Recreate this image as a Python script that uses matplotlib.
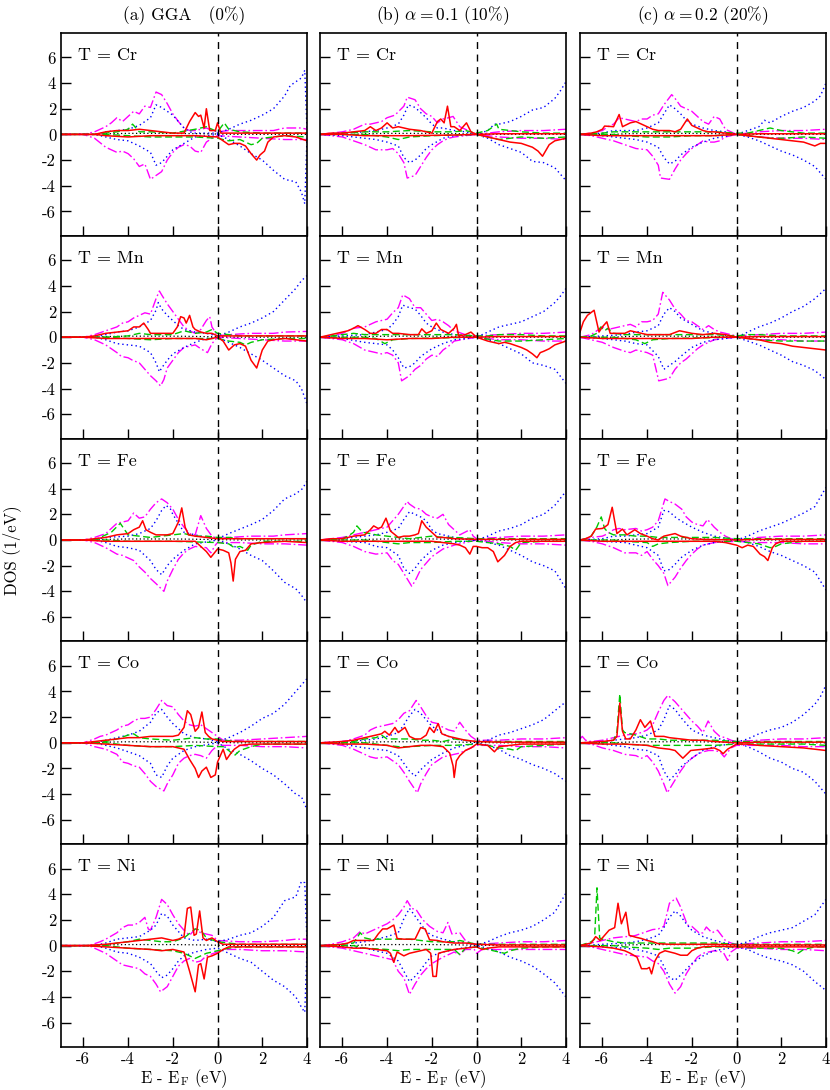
import matplotlib
matplotlib.use("Agg")
import matplotlib.pyplot as plt

plt.rcParams['font.family'] = ['cmr10', 'DejaVu Serif']
plt.rcParams['mathtext.fontset'] = 'cm'
plt.rcParams['axes.unicode_minus'] = False
plt.rcParams['axes.formatter.use_mathtext'] = False

# ---------------- data: (E - E_F [eV], DOS [1/eV]) ----------------
col_titles = ["(a) GGA   (0%)", r"(b) $\alpha = 0.1$ (10%)", r"(c) $\alpha = 0.2$ (20%)"]
elements = ["Cr", "Mn", "Fe", "Co", "Ni"]
x_ticks = [-6, -4, -2, 0, 2, 4]
y_ticks = [-6, -4, -2, 0, 2, 4, 6]

black_dos = [(-7,0),(-5.5,0),(-5,.05),(-4,.08),(-3,.08),(-2,.08),(-1,.06),(0,.03),(1,0),(4,0)]

# ---- column a (GGA) ----
a_cr_mag_up = [(-7,0),(-6,0),(-5.75,.1),(-5.5,.2),(-5.25,.4),(-5,.6),(-4.75,.9),(-4.5,1.3),(-4.25,1.0),(-4,1.4),(-3.75,1.8),(-3.5,1.6),(-3.25,2.2),(-3,2.1),(-2.75,3.3),(-2.5,3.1),(-2.25,2.4),(-2,1.6),(-1.75,1.0),(-1.5,.5),(-1.25,.3),(-1,.3),(-.75,.4),(-.5,.5),(-.25,.3),(0,.2),(.5,.3),(1.5,.3),(2.5,.3),(3,.5),(3.75,.5),(4,.4)]
a_cr_mag_dn = [(-7,0),(-6,0),(-5.5,-.3),(-5,-1.0),(-4.75,-1.2),(-4.5,-1.4),(-4.25,-1.3),(-4,-1.5),(-3.75,-1.9),(-3.5,-2.5),(-3.25,-2.3),(-3,-3.5),(-2.75,-3.2),(-2.5,-2.9),(-2.25,-2.0),(-2,-1.4),(-1.75,-1.0),(-1.5,-.8),(-1.25,-.9),(-1,-1.3),(-.75,-1.4),(-.5,-.6),(-.25,-.3),(0,-.1),(1,-.2),(2,-.3),(3,-.4),(4,-.4)]
a_cr_blue_up = [(-7,0),(-5.5,0),(-5,.2),(-4.5,.3),(-4,.4),(-3.5,.7),(-3.25,1.0),(-3,1.3),(-2.75,2.3),(-2.5,2.1),(-2.25,1.8),(-2,1.5),(-1.75,1.0),(-1.5,.5),(-1.25,.2),(-1,.1),(-.5,.1),(0,.1),(.5,.4),(1,.8),(1.5,1.1),(2,1.5),(2.5,2.0),(2.75,2.5),(3,3.0),(3.25,3.8),(3.5,4.1),(3.75,4.4),(3.9,5.0),(4,.3)]
a_cr_blue_dn = [(-7,0),(-5.5,0),(-5,-.2),(-4.5,-.4),(-4,-.5),(-3.5,-.9),(-3,-1.4),(-2.75,-2.4),(-2.5,-2.2),(-2.25,-1.7),(-2,-1.2),(-1.5,-.7),(-1,-.2),(-.5,-.1),(0,0),(.5,-.4),(1,-.9),(1.5,-1.5),(2,-2.0),(2.5,-2.8),(3,-3.5),(3.5,-3.7),(3.75,-4.5),(3.9,-5.4),(4,-.3)]
a_cr_red_up = [(-7,0),(-5.5,0),(-5,.2),(-4.5,.3),(-4,.3),(-3.5,.4),(-3,.3),(-2.5,.2),(-2,.1),(-1.5,.1),(-1.25,1.0),(-1,1.7),(-.85,1.4),(-.75,1.5),(-.6,.5),(-.5,2.0),(-.35,.3),(-.1,.3),(0,.9),(.15,.1),(1,.1),(2,.1),(3,.1),(4,.1)]
a_cr_red_dn = [(-7,0),(-5.5,0),(-5,-.1),(-4,-.2),(-3,-.1),(-2,-.1),(-1,-.1),(0,-.2),(.25,-.5),(.5,-.8),(.75,-.7),(1,-.7),(1.25,-.9),(1.5,-1.5),(1.75,-2.0),(1.9,-1.6),(2.1,-1.3),(2.25,-.6),(2.5,-.2),(3,-.1),(3.5,-.2),(4,-.5)]
a_cr_grn_up = [(-7,0),(-5.5,0),(-5,.1),(-4.5,.2),(-4,.4),(-3.8,.8),(-3.5,.2),(-3,.2),(-2,.1),(-1,.4),(-.5,.6),(0,.2),(.3,.9),(.5,.4),(1,.2),(2,.1),(3,.1),(4,.1)]
a_cr_grn_dn = [(-7,0),(-5,0),(-4,-.1),(-3,-.2),(-2,-.2),(-1,-.2),(0,-.3),(.5,-.5),(1,-.4),(1.5,-.8),(1.75,-.7),(2,-.3),(3,-.1),(4,-.2)]

a_mn_mag_up = [(-7,0),(-6,0),(-5.5,.2),(-5,.5),(-4.5,.8),(-4.25,1.1),(-4,1.2),(-3.75,1.5),(-3.5,1.7),(-3.25,1.9),(-3,1.8),(-2.75,3.0),(-2.6,3.6),(-2.5,3.3),(-2.25,2.6),(-2,2.0),(-1.75,1.4),(-1.5,.8),(-1.25,.5),(-1,.3),(-.75,.6),(-.5,1.3),(-.35,1.6),(-.25,.8),(0,.1),(.5,.2),(1.5,.3),(2.5,.3),(3,.4),(4,.45)]
a_mn_mag_dn = [(-7,0),(-6,0),(-5.5,-.2),(-5,-.6),(-4.5,-1.2),(-4.3,-1.5),(-4,-1.6),(-3.8,-1.8),(-3.5,-2.0),(-3.25,-2.5),(-3,-3.0),(-2.75,-3.4),(-2.55,-3.8),(-2.4,-3.3),(-2.25,-2.4),(-2,-1.8),(-1.75,-1.2),(-1.5,-.8),(-1,-.6),(-.75,-.9),(-.45,-1.2),(-.25,-.5),(0,0),(1,-.1),(2,-.2),(3,-.3),(4,-.3)]
a_mn_blue_up = [(-7,0),(-5.5,0),(-5,.2),(-4.5,.4),(-4,.5),(-3.5,.8),(-3,1.3),(-2.75,2.1),(-2.65,2.7),(-2.5,2.2),(-2.25,1.7),(-2,1.3),(-1.75,.9),(-1.5,.6),(-1,.4),(-.5,.3),(0,.1),(.5,.4),(1,.8),(1.5,1.1),(2,1.5),(2.5,2.0),(3,2.9),(3.5,3.8),(3.75,4.4),(4,4.8)]
a_mn_blue_dn = [(-7,0),(-5.5,0),(-5,-.2),(-4.5,-.5),(-4,-.6),(-3.5,-.7),(-3,-1.2),(-2.75,-2.0),(-2.6,-2.7),(-2.5,-2.4),(-2.25,-1.8),(-2,-1.3),(-1.5,-.8),(-1,-.4),(-.5,-.1),(0,0),(.5,-.4),(1,-.8),(1.5,-1.3),(2,-1.8),(2.5,-2.4),(3,-3.0),(3.5,-3.4),(3.75,-4.0),(4,-5.2)]
a_mn_red_up = [(-7,0),(-6,0),(-5.5,.1),(-5,.3),(-4.5,.4),(-4,.5),(-3.75,.8),(-3.5,.8),(-3.3,1.1),(-3.1,.6),(-3,.3),(-2.5,.3),(-2,.3),(-1.8,.8),(-1.65,1.6),(-1.5,1.5),(-1.4,1.1),(-1.25,1.7),(-1.1,.8),(-1,.6),(-.75,.4),(-.5,.3),(-.25,.3),(0,.1),(1,.1),(2,.1),(3,.1),(4,.1)]
a_mn_red_dn = [(-7,0),(-6,0),(-5,-.1),(-3,-.1),(-1,-.1),(-.5,-.2),(-.25,-.1),(0,0),(.25,-.3),(.5,-1.0),(.75,-.6),(1,-.5),(1.25,-.7),(1.5,-1.8),(1.75,-2.4),(2,-1.0),(2.25,-.3),(2.5,-.2),(3,-.1),(3.5,-.2),(4,-.3)]
a_mn_grn_up = [(-7,0),(-5,0),(-4,.1),(-3.5,.3),(-3,.2),(-2,.2),(-1.5,.5),(-1,.3),(-.5,.4),(-.25,.6),(0,.3),(.5,.2),(1,.1),(2,.1),(3,.1),(4,.1)]
a_mn_grn_dn = [(-7,0),(-5,0),(-4,-.1),(-3,-.2),(-2,-.1),(0,-.1),(.5,-.3),(1,-.4),(1.25,-.6),(1.5,-.4),(2,-.2),(3,-.1),(4,-.1)]

a_fe_mag_up = [(-7,0),(-6,0),(-5.5,.2),(-5,.5),(-4.75,.9),(-4.5,1.3),(-4.25,1.4),(-4,1.5),(-3.75,2.1),(-3.5,1.7),(-3.25,1.8),(-3,2.4),(-2.75,2.9),(-2.5,3.2),(-2.25,2.9),(-2,2.4),(-1.75,1.6),(-1.5,1.0),(-1.25,.5),(-1,.4),(-.75,1.9),(-.5,.9),(-.25,.3),(0,.1),(.5,.2),(1.5,.3),(2.5,.3),(3,.4),(4,.5)]
a_fe_mag_dn = [(-7,0),(-6,0),(-5.5,-.2),(-5,-.6),(-4.5,-1.1),(-4.25,-1.2),(-4,-1.4),(-3.75,-1.6),(-3.5,-2.1),(-3.25,-2.5),(-3,-3.0),(-2.75,-3.4),(-2.4,-4.0),(-2.25,-3.2),(-2,-2.3),(-1.75,-1.5),(-1.5,-1.0),(-1.25,-.7),(-1,-.5),(-.5,-.6),(-.3,-1.0),(-.1,-.4),(0,-.2),(1,-.2),(2,-.3),(3,-.3),(4,-.4)]
a_fe_blue_up = [(-7,0),(-5.5,0),(-5,.2),(-4,.3),(-3.5,.5),(-3,.9),(-2.75,1.5),(-2.5,2.3),(-2.3,2.7),(-2.1,2.4),(-2,2.0),(-1.75,1.3),(-1.5,.6),(-1,.4),(-.5,.2),(0,.1),(.5,.5),(1,.85),(1.5,1.2),(2,1.6),(2.5,2.3),(3,3.2),(3.5,3.6),(3.8,4.0),(4,4.6)]
a_fe_blue_dn = [(-7,0),(-5.5,0),(-5,-.2),(-4.5,-.5),(-4,-.6),(-3.5,-.8),(-3,-1.6),(-2.75,-2.3),(-2.5,-2.7),(-2.25,-2.0),(-2,-1.5),(-1.5,-.8),(-1,-.3),(0,0),(.5,-.3),(1,-.7),(1.5,-1.2),(2,-1.6),(2.5,-2.4),(3,-3.3),(3.5,-3.8),(3.75,-4.3),(4,-4.9)]
a_fe_red_up = [(-7,0),(-6,0),(-5.5,.1),(-5,.2),(-4.5,.4),(-4,.5),(-3.75,.8),(-3.5,1.0),(-3.35,1.5),(-3.2,.8),(-3,.6),(-2.75,.4),(-2.5,.4),(-2.25,.4),(-2,.5),(-1.75,1.4),(-1.6,2.5),(-1.45,1.0),(-1.3,.4),(-1,.3),(-.5,.2),(0,.1),(1,.1),(2,.1),(3,.1),(4,.1)]
a_fe_red_dn = [(-7,0),(-6,0),(-5,-.1),(-3,-.1),(-2,-.1),(-1,-.1),(-.75,-.5),(-.5,-.9),(-.3,-1.35),(0,-.7),(.25,-.8),(.5,-1.0),(.6,-1.8),(.7,-3.2),(.8,-1.5),(1,-.9),(1.25,-.8),(1.5,-.3),(2,-.2),(3,-.1),(4,-.2)]
a_fe_grn_up = [(-7,0),(-5.5,0),(-5.25,.2),(-4.75,.6),(-4.35,1.3),(-4,.4),(-3.5,.3),(-3,.2),(-2.5,.3),(-2,.4),(-1.5,.5),(-1,.3),(-.5,.3),(0,.2),(.5,.2),(1,.1),(2,.1),(3,.1),(4,.1)]
a_fe_grn_dn = [(-7,0),(-5,0),(-4,-.1),(-2,-.1),(0,-.2),(.5,-.3),(.75,-.6),(1,-.5),(1.35,-.8),(1.5,-.4),(2,-.1),(3,-.1),(4,-.1)]

a_co_mag_up = [(-7,0),(-6,0),(-5.5,.3),(-5.25,.5),(-5,.6),(-4.75,.8),(-4.5,1.0),(-4.25,1.3),(-4,1.4),(-3.75,1.7),(-3.5,1.9),(-3.25,1.9),(-3,2.0),(-2.75,2.6),(-2.5,3.3),(-2.25,2.9),(-2,2.8),(-1.75,2.2),(-1.5,1.7),(-1.25,1.4),(-1,1.3),(-.75,1.4),(-.5,1.1),(-.25,.8),(0,.5),(.25,.2),(1,.2),(2,.3),(3,.4),(4,.5)]
a_co_mag_dn = [(-7,0),(-6,0),(-5.5,-.3),(-5,-.5),(-4.5,-.9),(-4.25,-1.5),(-4,-1.6),(-3.75,-1.8),(-3.5,-1.9),(-3.25,-2.4),(-3,-3.0),(-2.75,-3.4),(-2.4,-3.75),(-2.25,-3.2),(-2,-2.5),(-1.75,-1.6),(-1.5,-1.2),(-1.25,-1.0),(-1,-.9),(-.75,-1.0),(-.5,-1.2),(-.25,-.6),(0,-.2),(1,-.2),(2,-.3),(3,-.3),(4,-.4)]
a_co_blue_up = [(-7,0),(-5.5,0),(-5,.2),(-4.5,.4),(-4,.6),(-3.5,.9),(-3,1.6),(-2.75,2.3),(-2.5,2.6),(-2.25,2.0),(-2,1.5),(-1.75,1.1),(-1.5,.7),(-1,.4),(-.5,.3),(0,.1),(.5,.4),(1,.8),(1.5,1.3),(2,1.9),(2.5,2.3),(3,3.0),(3.5,4.0),(4,5.0)]
a_co_blue_dn = [(-7,0),(-5.5,0),(-5,-.2),(-4.5,-.4),(-4,-.7),(-3.5,-1.0),(-3,-1.6),(-2.75,-2.5),(-2.5,-2.7),(-2.25,-1.8),(-2,-1.2),(-1.5,-.6),(-1,-.3),(0,0),(.5,-.5),(1,-.9),(1.5,-1.4),(2,-2.0),(2.5,-2.5),(3,-3.2),(3.5,-4.0),(3.75,-4.2),(4,-5.2)]
a_co_red_up = [(-7,0),(-6,0),(-5.5,.1),(-5,.2),(-4.5,.3),(-4,.4),(-3.5,.4),(-3,.5),(-2.5,.5),(-2,.5),(-1.75,.6),(-1.5,1.2),(-1.35,2.5),(-1.2,2.2),(-1.0,.9),(-.85,1.2),(-.7,2.4),(-.55,.8),(-.4,.5),(-.25,.3),(0,.2),(.25,.1),(1,.1),(2,.1),(3,.1),(4,.1)]
a_co_red_dn = [(-7,0),(-6,0),(-5,-.1),(-4,-.2),(-3,-.3),(-2,-.3),(-1.5,-.5),(-1.25,-1.3),(-1,-2.0),(-.85,-2.7),(-.7,-2.2),(-.5,-1.9),(-.3,-2.7),(-.1,-2.5),(0,-1.5),(.25,-.5),(.4,-1.3),(.6,-.8),(.75,-.5),(1,-.2),(1.5,-.1),(2,-.1),(3,-.1),(4,-.1)]
a_co_grn_up = [(-7,0),(-5.5,0),(-5,.1),(-4.5,.3),(-4,.6),(-3.75,.7),(-3.5,.4),(-3,.3),(-2,.2),(-1,.4),(-.5,.3),(0,.3),(.25,.2),(1,.1),(2,.1),(3,.1),(4,.1)]
a_co_grn_dn = [(-7,0),(-5,0),(-4,-.2),(-3,-.3),(-2,-.3),(-1,-.2),(0,-.3),(.25,-.3),(.5,-.6),(.75,-1.0),(1,-.6),(1.5,-.3),(2,-.1),(3,-.1),(4,-.1)]

a_ni_mag_up = [(-7,0),(-5.75,0),(-5.25,.3),(-5,.5),(-4.5,1.0),(-4.25,1.4),(-4,1.6),(-3.75,1.6),(-3.5,1.8),(-3.25,2.2),(-3.1,1.3),(-3,1.2),(-2.75,2.2),(-2.5,3.6),(-2.25,3.2),(-2,2.4),(-1.75,1.7),(-1.5,1.2),(-1.25,.8),(-1,1.3),(-.75,1.0),(-.5,.9),(-.25,.8),(0,.4),(1,.3),(2,.3),(3,.4),(3.5,.5),(4,.5)]
a_ni_mag_dn = [(-7,0),(-5.75,0),(-5.25,-.4),(-5,-.6),(-4.5,-1.2),(-4.25,-1.5),(-4,-1.6),(-3.75,-1.7),(-3.5,-1.8),(-3.25,-2.2),(-3,-2.4),(-2.75,-3.0),(-2.55,-3.6),(-2.25,-3.2),(-2,-2.4),(-1.75,-1.6),(-1.5,-1.2),(-1.25,-1.0),(-1,-1.3),(-.75,-1.2),(-.5,-.8),(0,-.5),(.25,-.3),(1,-.3),(2,-.4),(3,-.4),(4,-.5)]
a_ni_blue_up = [(-7,0),(-5.5,0),(-5,.2),(-4.5,.5),(-4,.6),(-3.5,.7),(-3,1.2),(-2.75,1.6),(-2.5,2.5),(-2.25,2.3),(-2,1.6),(-1.75,1.1),(-1.5,.6),(-1,.4),(-.5,.5),(0,.3),(.5,.5),(1,.8),(1.5,1.0),(2,1.5),(2.5,2.2),(3,3.5),(3.5,3.8),(3.75,5.0),(3.9,4.9),(4,.3)]
a_ni_blue_dn = [(-7,0),(-5.5,0),(-5,-.2),(-4.5,-.5),(-4,-.6),(-3.5,-.9),(-3,-1.4),(-2.75,-2.0),(-2.5,-2.5),(-2.25,-2.3),(-2,-1.8),(-1.75,-1.2),(-1.5,-.8),(-1,-.5),(-.5,-.3),(0,-.2),(.5,-.6),(1,-1.0),(1.5,-1.3),(2,-2.0),(2.5,-2.7),(3,-3.2),(3.5,-4.0),(3.75,-4.8),(3.9,-5.2),(4,-.3)]
a_ni_red_up = [(-7,0),(-6,0),(-5,.1),(-4.5,.2),(-4,.3),(-3.5,.4),(-3,.5),(-2.5,.6),(-2,.4),(-1.75,.5),(-1.5,.7),(-1.35,2.9),(-1.2,3.0),(-1.05,.8),(-.95,.9),(-.8,2.7),(-.65,.6),(-.5,.4),(-.25,.6),(0,.3),(.25,.1),(1,.1),(2,.1),(3,.1),(4,.1)]
a_ni_red_dn = [(-7,0),(-6,0),(-5,-.1),(-4,-.2),(-3,-.3),(-2.5,-.4),(-2,-.3),(-1.5,-.5),(-1.25,-2.0),(-1.0,-3.6),(-.85,-1.5),(-.75,-1.4),(-.6,-2.6),(-.45,-.9),(-.25,-.8),(0,-.6),(.25,-.3),(.5,-.1),(1,-.1),(2,-.1),(3,-.1),(4,-.1)]
a_ni_grn_up = [(-7,0),(-5,0),(-4.5,.2),(-4,.3),(-3.5,.5),(-3,.4),(-2.5,.3),(-2,.3),(-1.5,.6),(-1,1.3),(-.75,1.2),(-.5,.6),(0,.3),(.5,.2),(1,.1),(2,.1),(3,.1),(4,.1)]
a_ni_grn_dn = [(-7,0),(-5,0),(-4,-.2),(-3,-.3),(-2,-.4),(-1.5,-.6),(-1,-1.0),(-.75,-.8),(-.5,-.6),(0,-.4),(.5,-.2),(1,-.1),(2,-.1),(3,-.1),(4,-.1)]

# ---- column b (alpha = 0.1) ----
b_cr_mag_up = [(-7,0),(-6.5,.1),(-6,.2),(-5.5,.4),(-5,.8),(-4.75,.8),(-4.5,.9),(-4.25,1.0),(-4,1.3),(-3.65,1.5),(-3.25,2.2),(-3.1,2.9),(-2.75,2.7),(-2.5,2.0),(-2.25,1.6),(-2,1.4),(-1.75,.9),(-1.5,1.2),(-1.25,1.3),(-1.05,1.4),(-.75,.6),(-.5,.4),(-.25,.2),(0,0),(1,.2),(2,.3),(3,.3),(4,.4)]
b_cr_mag_dn = [(-7,0),(-6,-.2),(-5.5,-.5),(-5,-.8),(-4.5,-1.2),(-4,-1.2),(-3.75,-1.1),(-3.5,-1.5),(-3.25,-2.2),(-3.1,-3.4),(-2.75,-3.2),(-2.5,-2.5),(-2.25,-1.8),(-2,-1.2),(-1.75,-.8),(-1.5,-.5),(-1.25,-.3),(-1,-.2),(-.5,-.1),(0,0),(1,-.2),(2,-.3),(3,-.3),(4,-.4)]
b_cr_blue_up = [(-7,0),(-6,.1),(-5,.2),(-4.5,.3),(-4,.5),(-3.5,.8),(-3.25,1.5),(-3.05,2.3),(-2.75,2.1),(-2.5,1.7),(-2.25,1.3),(-2,.8),(-1.75,.5),(-1.5,.5),(-1.25,.4),(-1,.3),(-.5,.2),(0,0),(.5,.3),(.8,.8),(1,.8),(1.5,1.0),(2,1.4),(2.5,1.9),(3,2.1),(3.5,2.8),(3.75,3.4),(4,4.1)]
b_cr_blue_dn = [(-7,0),(-6,-.1),(-5,-.3),(-4.5,-.4),(-4,-.6),(-3.5,-.9),(-3.25,-1.8),(-3,-2.2),(-2.75,-2.0),(-2.5,-1.6),(-2.25,-1.1),(-2,-.8),(-1.5,-.3),(-1,-.1),(0,0),(.5,-.3),(1,-.8),(1.5,-1.1),(2,-1.4),(2.5,-2.1),(3,-2.2),(3.5,-2.6),(4,-3.6)]
b_cr_red_up = [(-7,0),(-6.5,.1),(-6,.1),(-5.5,.2),(-5,.3),(-4.75,.6),(-4.5,.3),(-4.25,.5),(-4,.9),(-3.75,.5),(-3.5,.6),(-3,.4),(-2.5,.3),(-2,.1),(-1.75,1.0),(-1.6,1.2),(-1.45,.9),(-1.3,2.2),(-1.15,.6),(-1,.6),(-.75,.3),(-.45,.9),(-.25,.2),(0,0),(1,.05),(2,.05),(4,.05)]
b_cr_red_dn = [(-7,0),(-6,0),(-5,-.1),(-3,-.1),(-1,-.05),(0,0),(.5,-.2),(1,-.4),(1.5,-.6),(2,-.7),(2.5,-1.0),(2.75,-1.3),(2.95,-1.7),(3.25,-.8),(3.5,-.5),(4,-.3)]
b_cr_grn_up = [(-7,0),(-6,.1),(-5,.2),(-4,.2),(-3,.3),(-2,.2),(-1,.2),(-.5,.3),(0,.1),(.5,.3),(.9,.8),(1,.4),(1.5,.3),(2,.2),(3,.1),(4,.1)]
b_cr_grn_dn = [(-7,0),(-5,0),(-4,-.2),(-3.5,-.4),(-3,-.2),(-2,-.1),(0,0),(1,-.4),(1.5,-.3),(2,-.2),(3,-.3),(4,-.2)]

b_mn_mag_up = [(-7,0),(-6.5,.1),(-6,.3),(-5.75,.5),(-5.5,.7),(-5,.8),(-4.75,1.0),(-4.5,1.2),(-4.25,1.3),(-4,1.4),(-3.75,1.9),(-3.5,2.3),(-3.3,3.3),(-3,3.0),(-2.75,2.3),(-2.5,2.3),(-2.25,1.8),(-2,1.3),(-1.75,1.4),(-1.5,1.2),(-1.25,.9),(-1,.5),(-.5,.2),(0,.1),(1,.2),(2,.3),(3,.3),(4,.4)]
b_mn_mag_dn = [(-7,0),(-6,-.2),(-5.5,-.5),(-5,-1.0),(-4.5,-1.2),(-4.25,-1.3),(-4,-1.2),(-3.75,-1.4),(-3.5,-2.0),(-3.35,-3.4),(-3,-3.0),(-2.75,-2.5),(-2.5,-2.2),(-2.25,-1.7),(-2,-1.4),(-1.75,-1.5),(-1.5,-1.0),(-1.25,-.7),(-1,-.3),(0,0),(1,-.2),(2,-.2),(3,-.3),(4,-.3)]
b_mn_blue_up = [(-7,0),(-6,.1),(-5,.2),(-4.5,.4),(-4,.6),(-3.75,1.0),(-3.5,1.6),(-3.3,2.5),(-3,2.3),(-2.75,2.2),(-2.5,1.7),(-2.25,1.1),(-2,.8),(-1.5,.4),(-1,.2),(0,0),(.5,.4),(1,.8),(1.5,1.0),(2,1.2),(2.5,1.6),(3,2.0),(3.5,2.7),(3.75,3.2),(4,3.8)]
b_mn_blue_dn = [(-7,0),(-6,-.1),(-5,-.4),(-4.5,-.5),(-4,-.6),(-3.75,-1.0),(-3.5,-1.6),(-3.25,-2.4),(-3,-2.3),(-2.75,-2.0),(-2.5,-1.5),(-2,-.9),(-1.5,-.5),(-1,-.2),(0,0),(.5,-.2),(1,-.5),(1.5,-.9),(2,-1.3),(2.5,-2.0),(3,-2.2),(3.5,-2.5),(4,-3.6)]
b_mn_red_up = [(-7,0),(-6.75,.1),(-6.5,.2),(-6,.4),(-5.75,.5),(-5.5,.7),(-5.3,.9),(-5,.6),(-4.75,.3),(-4.5,.3),(-4.25,.6),(-4,.6),(-3.75,.3),(-3.5,.3),(-3,.2),(-2.6,.2),(-2.45,.65),(-2.25,.3),(-2,.5),(-1.8,1.1),(-1.6,.6),(-1.25,.3),(-1,.7),(-.9,1.0),(-.8,.1),(-.5,.2),(-.25,.4),(0,0),(1,.05),(2,.05),(4,.05)]
b_mn_red_dn = [(-7,0),(-6,-.1),(-5,-.1),(-4,-.2),(-3,-.1),(-2,-.1),(-1,0),(0,0),(.5,-.3),(1,-.5),(1.25,-.4),(1.5,-.5),(2,-.8),(2.25,-1.0),(2.5,-1.3),(2.7,-1.6),(2.85,-1.2),(3,-1.1),(3.25,-.9),(3.5,-.6),(4,-.3)]
b_mn_grn_up = [(-7,0),(-6.5,.1),(-6,.2),(-5.5,.3),(-5,.2),(-4,.2),(-3,.2),(-2,.2),(-1,.2),(0,.1),(.5,.1),(1,.2),(2,.2),(3,.1),(4,.1)]
b_mn_grn_dn = [(-7,0),(-5,0),(-4.5,-.1),(-4.1,-.5),(-3.75,-.2),(-3,-.1),(0,0),(1,-.3),(2,-.3),(3,-.2),(4,-.1)]

b_fe_mag_up = [(-7,0),(-6.5,.1),(-6,.2),(-5.5,.4),(-5,.6),(-4.5,.8),(-4,1.0),(-3.75,1.5),(-3.5,2.0),(-3.1,3.0),(-3,2.8),(-2.75,2.5),(-2.5,2.4),(-2.25,2.0),(-2,1.8),(-1.75,1.7),(-1.5,2.0),(-1.25,1.2),(-1,.8),(-.75,.4),(-.3,.8),(-.15,.3),(0,.1),(1,.2),(2,.3),(3,.3),(4,.4)]
b_fe_mag_dn = [(-7,0),(-6.5,-.1),(-6,-.2),(-5.5,-.5),(-5,-.9),(-4.5,-1.1),(-4,-1.0),(-3.75,-1.6),(-3.5,-1.9),(-3.25,-2.6),(-2.9,-3.6),(-2.75,-3.2),(-2.5,-2.3),(-2.25,-1.8),(-2,-1.3),(-1.5,-.7),(-1,-.4),(-.5,-.2),(0,0),(1,-.2),(2,-.3),(3,-.3),(4,-.4)]
b_fe_blue_up = [(-7,0),(-6,.1),(-5,.3),(-4.5,.4),(-4,.6),(-3.5,.9),(-3.25,1.6),(-3,2.2),(-2.75,2.0),(-2.5,1.8),(-2.25,1.5),(-2,.8),(-1.75,.5),(-1.5,.4),(-1,.2),(0,0),(.5,.3),(1,.7),(1.5,.9),(2,1.2),(2.5,1.7),(3,2.0),(3.5,2.7),(4,3.8)]
b_fe_blue_dn = [(-7,0),(-6,-.1),(-5,-.2),(-4.5,-.5),(-4,-.6),(-3.5,-1.2),(-3.25,-2.2),(-3,-2.6),(-2.75,-2.2),(-2.5,-1.6),(-2,-.8),(-1.5,-.4),(-1,-.2),(0,0),(.5,-.2),(1,-.4),(1.5,-.8),(2,-1.2),(2.5,-1.7),(3,-2.0),(3.5,-2.4),(4,-3.8)]
b_fe_red_up = [(-7,0),(-6.5,.1),(-6,.1),(-5.5,.3),(-5,.4),(-4.75,.8),(-4.6,1.1),(-4.4,.9),(-4.25,1.0),(-4.05,1.7),(-3.85,.7),(-3.5,.2),(-3.25,.3),(-3,.3),(-2.75,.4),(-2.6,.5),(-2.45,1.5),(-2.25,1.0),(-2,.6),(-1.75,.2),(-1.5,.2),(-1,.1),(0,.05),(1,.05),(2,.05),(4,.05)]
b_fe_red_dn = [(-7,0),(-6,-.1),(-5,-.1),(-4,-.1),(-3,-.1),(-2,-.1),(-1.5,-.2),(-1,-.3),(-.75,-.4),(-.5,-.6),(-.3,-1.1),(-.15,-.5),(0,-.5),(.25,-.6),(.5,-.6),(.75,-.9),(.95,-1.7),(1.25,-1.2),(1.5,-.5),(1.75,-.2),(2,-.1),(4,-.1)]
b_fe_grn_up = [(-7,0),(-6,.1),(-5.75,.3),(-5.5,.6),(-5.35,1.1),(-5.1,.6),(-4.75,.5),(-4.5,.4),(-4,.3),(-3.5,.2),(-3,.1),(-2.5,.2),(-2,.3),(-1.5,.2),(-1,.2),(0,.1),(1,.1),(2,.1),(3,.1),(4,.1)]
b_fe_grn_dn = [(-7,0),(-5,0),(-4,-.2),(-3.5,-.3),(-3,-.2),(-2,-.2),(-1,-.1),(0,-.1),(.5,-.2),(1,-.3),(1.5,-.5),(1.75,-.8),(2,-.2),(3,-.1),(4,-.1)]

b_co_mag_up = [(-7,0),(-6,.1),(-5.5,.3),(-5,.6),(-4.75,1.0),(-4.5,1.2),(-4,1.4),(-3.75,1.5),(-3.5,1.8),(-3.25,2.3),(-3,2.5),(-2.7,3.3),(-2.5,2.8),(-2.25,2.1),(-2,1.6),(-1.75,1.5),(-1.5,1.2),(-1.25,1.0),(-1,.9),(-.75,1.6),(-.5,1.0),(-.25,.5),(0,.2),(1,.2),(2,.3),(3,.3),(4,.4)]
b_co_mag_dn = [(-7,0),(-6,-.2),(-5.5,-.5),(-5,-.9),(-4.75,-1.1),(-4.5,-1.2),(-4,-1.1),(-3.75,-1.4),(-3.5,-1.7),(-3.25,-2.3),(-3,-3.0),(-2.65,-3.9),(-2.5,-3.2),(-2.25,-2.4),(-2,-1.7),(-1.75,-1.4),(-1.5,-1.1),(-1.25,-1.0),(-1,-.9),(-.75,-.8),(-.5,-.6),(-.25,-.4),(0,-.2),(1,-.2),(2,-.3),(3,-.3),(4,-.4)]
b_co_blue_up = [(-7,0),(-6,.1),(-5,.2),(-4.5,.3),(-4,.5),(-3.5,.8),(-3.25,1.4),(-3,2.1),(-2.75,2.6),(-2.5,2.3),(-2.25,1.8),(-2,1.3),(-1.5,.7),(-1,.3),(0,.05),(.5,.2),(1,.6),(1.5,.8),(2,1.1),(2.5,1.4),(3,1.8),(3.5,2.5),(4,3.2)]
b_co_blue_dn = [(-7,0),(-6,-.1),(-5,-.4),(-4.5,-.5),(-4,-.6),(-3.5,-1.0),(-3.25,-1.6),(-3,-2.2),(-2.75,-2.6),(-2.5,-2.1),(-2,-1.3),(-1.5,-.8),(-1,-.4),(-.5,-.2),(0,0),(.5,-.2),(1,-.5),(1.5,-1.0),(2,-1.3),(2.5,-1.7),(3,-2.0),(3.5,-2.4),(4,-3.0)]
b_co_red_up = [(-7,0),(-6,.1),(-5.5,.2),(-5,.4),(-4.5,.6),(-4.25,.7),(-4.1,.9),(-3.9,.6),(-3.65,1.2),(-3.5,.8),(-3.2,1.2),(-3,.5),(-2.75,.3),(-2.5,.3),(-2.25,.6),(-2.1,1.2),(-1.9,.8),(-1.72,1.5),(-1.55,.7),(-1.25,.5),(-1,.4),(-.75,.3),(-.5,.2),(0,.1),(1,.05),(2,.05),(4,.05)]
b_co_red_dn = [(-7,0),(-6,-.1),(-5,-.1),(-4,-.2),(-3.5,-.4),(-3,-.3),(-2.5,-.2),(-2,-.2),(-1.5,-.3),(-1.2,-.8),(-1.05,-1.8),(-1.0,-2.7),(-.9,-1.4),(-.75,-1.0),(-.5,-.6),(-.25,-.4),(0,-.1),(.5,-.2),(.8,-.7),(1,-.3),(1.5,-.2),(2,-.1),(4,-.1)]
b_co_grn_up = [(-7,0),(-6,0),(-5.5,.1),(-5,.3),(-4.5,.4),(-4.25,.6),(-4,.3),(-3.5,.3),(-3,.3),(-2.5,.2),(-2,.2),(-1.5,.1),(-1,.3),(0,.1),(.5,.1),(1,.1),(2,.1),(4,.1)]
b_co_grn_dn = [(-7,0),(-5,0),(-4,-.2),(-3.5,-.3),(-3,-.3),(-2,-.2),(-1,-.2),(0,-.1),(.5,-.2),(1,-.4),(1.5,-.5),(1.75,-.6),(2,-.3),(3,-.2),(4,-.1)]

b_ni_mag_up = [(-7,0),(-6.5,.1),(-6,.3),(-5.5,.6),(-5.2,1.1),(-5,.9),(-4.75,1.1),(-4.5,1.3),(-4.25,1.5),(-4,1.7),(-3.75,2.0),(-3.5,2.4),(-3.25,3.0),(-3.1,3.5),(-2.9,2.9),(-2.7,2.8),(-2.4,2.0),(-2.1,1.5),(-1.75,1.1),(-1.5,1.0),(-1.28,1.8),(-1.1,.9),(-.75,1.0),(-.5,.4),(-.25,.2),(0,.1),(1,.2),(2,.3),(3,.3),(4,.4)]
b_ni_mag_dn = [(-7,0),(-6,-.2),(-5.5,-.4),(-5,-.6),(-4.5,-.8),(-4,-1.0),(-3.75,-1.1),(-3.5,-2.0),(-3.25,-2.5),(-3,-3.8),(-2.75,-3.0),(-2.5,-2.3),(-2.25,-1.8),(-2,-1.4),(-1.5,-.9),(-1,-.5),(-.75,-.7),(-.5,-.3),(-.1,-.3),(0,-.6),(.25,-.3),(1,-.3),(2,-.3),(3,-.3),(4,-.3)]
b_ni_blue_up = [(-7,0),(-6,.1),(-5,.3),(-4.5,.5),(-4,.7),(-3.5,1.0),(-3.25,2.1),(-3,2.9),(-2.75,2.3),(-2.5,1.7),(-2.25,1.1),(-2,.8),(-1.5,.5),(-1,.3),(-.5,.2),(0,.05),(.5,.3),(1,.7),(1.5,1.0),(2,1.2),(2.5,1.5),(3,2.0),(3.5,2.6),(4,4.1)]
b_ni_blue_dn = [(-7,0),(-6,-.1),(-5,-.2),(-4.5,-.4),(-4,-.6),(-3.5,-1.2),(-3.25,-2.0),(-3,-2.8),(-2.75,-2.4),(-2.5,-1.9),(-2.25,-1.3),(-2,-.8),(-1.5,-.5),(-1,-.3),(0,0),(.5,-.2),(1,-.5),(1.5,-.9),(2,-1.2),(2.5,-1.6),(3,-2.2),(3.5,-2.9),(4,-4.0)]
b_ni_red_up = [(-7,0),(-6,.1),(-5.75,.2),(-5.5,.4),(-5,.4),(-4.6,.4),(-4.4,.9),(-4.2,1.3),(-4,1.3),(-3.7,1.6),(-3.55,.55),(-3.25,.5),(-3,.5),(-2.75,.5),(-2.5,1.4),(-2.3,1.3),(-2.1,.45),(-1.75,.4),(-1.5,.3),(-1,.2),(-.5,.2),(0,.1),(1,.05),(2,.05),(4,.05)]
b_ni_red_dn = [(-7,0),(-6,-.1),(-5.5,-.2),(-5,-.2),(-4.5,-.3),(-4,-.4),(-3.85,-.6),(-3.7,-1.3),(-3.55,-.5),(-3.25,-.8),(-3,-.6),(-2.75,-.5),(-2.5,-.4),(-2.25,-.3),(-2.05,-.6),(-1.95,-2.4),(-1.8,-2.4),(-1.7,-.6),(-1.5,-.5),(-1.25,-.4),(-1,-.3),(-.5,-.2),(0,-.1),(.25,-.3),(.5,-.2),(1,-.1),(2,-.1),(4,-.1)]
b_ni_grn_up = [(-7,0),(-6,.1),(-5.5,.2),(-5.2,1.0),(-5,.6),(-4.75,.5),(-4.5,.5),(-4,.5),(-3.5,.5),(-3,.5),(-2.5,.4),(-2,.3),(-1.5,.3),(-1,.3),(-.75,.4),(-.5,.3),(0,.1),(1,.1),(2,.1),(4,.1)]
b_ni_grn_dn = [(-7,0),(-5.5,0),(-5,-.2),(-4,-.3),(-3.5,-.4),(-3,-.3),(-2.5,-.3),(-2,-.3),(-1,-.3),(-.75,-.7),(-.5,-.2),(0,-.1),(.5,-.3),(1,-.5),(1.25,-.6),(1.5,-.4),(2,-.2),(3,-.1),(4,-.1)]

# ---- column c (alpha = 0.2) ----
c_cr_mag_up = [(-7,0),(-6.5,.1),(-6,.3),(-5.75,.6),(-5.5,.8),(-5.25,1.3),(-5,1.2),(-4.75,1.1),(-4.5,1.0),(-4.25,1.2),(-4,1.2),(-3.75,1.5),(-3.5,1.6),(-3.25,2.3),(-2.9,3.1),(-2.75,2.8),(-2.5,2.2),(-2.25,2.0),(-2,1.8),(-1.75,1.4),(-1.5,1.0),(-1.25,.8),(-1,1.4),(-.75,1.2),(-.5,.4),(-.25,.2),(0,0),(1,.2),(2,.3),(3,.3),(4,.4)]
c_cr_mag_dn = [(-7,0),(-6.5,-.1),(-6,-.3),(-5.5,-.5),(-5,-.8),(-4.5,-1.1),(-4,-1.2),(-3.75,-1.7),(-3.5,-2.4),(-3.4,-3.4),(-3,-3.5),(-2.75,-2.7),(-2.5,-2.0),(-2.25,-1.5),(-2,-1.1),(-1.75,-.8),(-1.5,-.5),(-1.25,-.6),(-1,-.6),(-.75,-.5),(-.5,-.2),(0,0),(1,-.2),(2,-.3),(3,-.3),(4,-.4)]
c_cr_blue_up = [(-7,0),(-6,.1),(-5.5,.3),(-5,.3),(-4.5,.3),(-4,.5),(-3.5,.9),(-3.25,1.6),(-3,2.3),(-2.75,2.0),(-2.5,1.6),(-2.25,1.1),(-2,.8),(-1.5,.5),(-1,.3),(-.5,.2),(0,0),(.5,.3),(1,.6),(1.25,1.1),(1.5,.9),(2,1.4),(2.5,1.8),(3,2.1),(3.5,2.6),(3.75,3.0),(4,4.0)]
c_cr_blue_dn = [(-7,0),(-6,-.1),(-5,-.3),(-4.5,-.4),(-4,-.6),(-3.5,-1.0),(-3.25,-1.8),(-3,-2.3),(-2.75,-2.1),(-2.5,-1.6),(-2,-1.0),(-1.5,-.6),(-1,-.3),(0,0),(.5,-.2),(1,-.5),(1.5,-.9),(2,-1.3),(2.5,-1.6),(3,-2.0),(3.5,-2.5),(4,-3.5)]
c_cr_red_up = [(-7,0),(-6.5,.1),(-6.25,.2),(-6,.4),(-5.9,.65),(-5.5,.6),(-5.25,1.55),(-5.1,.6),(-4.75,.9),(-4.5,1.0),(-4.25,.8),(-4,.6),(-3.75,.4),(-3.5,.3),(-3,.3),(-2.75,.2),(-2.5,.4),(-2.2,1.2),(-2,.7),(-1.75,.5),(-1.5,.3),(-1.25,.2),(-1,.2),(-.5,.1),(0,0),(1,.05),(2,.05),(4,.05)]
c_cr_red_dn = [(-7,0),(-6,-.1),(-5,-.1),(-4,-.1),(-3,-.1),(-2,-.1),(-1,-.1),(0,0),(.5,-.1),(1,-.2),(1.5,-.3),(2,-.4),(2.5,-.5),(3,-.6),(3.5,-.9),(3.75,-.7),(4,-.7)]
c_cr_grn_up = [(-7,0),(-6,.1),(-5.5,.2),(-5,.2),(-4,.2),(-3,.2),(-2,.2),(-1,.2),(0,.1),(.5,.1),(1,.3),(1.5,.5),(2,.3),(2.5,.2),(3,.1),(4,.1)]
c_cr_grn_dn = [(-7,0),(-5.5,0),(-5,-.1),(-4,-.2),(-3,-.2),(-2,-.1),(-1,-.1),(0,0),(1,-.2),(1.5,-.3),(2,-.3),(3,-.2),(4,-.3)]

c_mn_mag_up = [(-7,0),(-6.5,.2),(-6.25,.5),(-6,.8),(-5.75,.6),(-5.5,.7),(-5,.9),(-4.75,1.0),(-4.5,.8),(-4.25,1.2),(-4,1.2),(-3.75,1.3),(-3.5,1.8),(-3.3,3.5),(-3,2.9),(-2.75,2.2),(-2.5,1.8),(-2.25,1.3),(-2,1.2),(-1.75,.9),(-1.5,.6),(-1.25,.9),(-1,.6),(-.75,.4),(-.5,.3),(0,.1),(1,.2),(2,.3),(3,.3),(4,.4)]
c_mn_mag_dn = [(-7,0),(-6.5,-.2),(-6,-.4),(-5.5,-.8),(-5,-1.1),(-4.75,-1.2),(-4.5,-1.0),(-4,-1.2),(-3.75,-1.4),(-3.6,-2.5),(-3.48,-3.4),(-3,-3.2),(-2.75,-2.5),(-2.5,-2.0),(-2.25,-1.7),(-2,-1.3),(-1.75,-.9),(-1.5,-.6),(-1,-.2),(0,0),(1,-.2),(2,-.2),(3,-.3),(4,-.3)]
c_mn_blue_up = [(-7,0),(-6,.1),(-5,.2),(-4.5,.4),(-4,.5),(-3.5,.9),(-3.25,1.8),(-3,2.3),(-2.75,2.0),(-2.5,1.5),(-2,1.0),(-1.5,.5),(-1,.3),(0,0),(.5,.4),(1,.8),(1.5,1.1),(2,1.5),(2.5,2.0),(3,2.4),(3.5,3.0),(4,3.8)]
c_mn_blue_dn = [(-7,0),(-6,-.1),(-5,-.3),(-4.5,-.5),(-4,-.6),(-3.5,-1.5),(-3.25,-2.5),(-3,-2.2),(-2.75,-1.9),(-2.5,-1.5),(-2,-.8),(-1.5,-.4),(-1,-.2),(0,0),(.5,-.3),(1,-.6),(1.5,-1.0),(2,-1.4),(2.5,-1.9),(3,-2.2),(3.5,-2.6),(4,-3.3)]
c_mn_red_up = [(-7,.4),(-6.85,1.2),(-6.67,1.7),(-6.37,2.1),(-6.15,.4),(-6,.8),(-5.8,1.2),(-5.65,.3),(-5.25,.3),(-5,.3),(-4.75,.5),(-4.5,.4),(-4,.2),(-3.5,.2),(-3,.2),(-2.55,.5),(-2,.3),(-1.5,.2),(-1,.3),(-.5,.2),(0,0),(1,.05),(2,.05),(4,.05)]
c_mn_red_dn = [(-7,0),(-6,-.1),(-4,-.1),(-3,-.1),(-2,-.1),(-1,0),(0,0),(.5,-.1),(1,-.2),(1.5,-.4),(2,-.5),(2.5,-.7),(3,-.8),(3.5,-.9),(4,-1.0)]
c_mn_grn_up = [(-7,0),(-6.5,.1),(-6.25,.3),(-6.07,.8),(-5.9,.5),(-5.75,.7),(-5.5,.3),(-5,.2),(-4,.2),(-3,.2),(-2,.2),(-1,.2),(0,.1),(.5,.2),(1,.2),(2,.1),(4,.1)]
c_mn_grn_dn = [(-7,0),(-5.5,0),(-5,-.1),(-4.5,-.2),(-4.1,-.5),(-3.75,-.2),(-3,-.1),(0,0),(1,-.2),(2,-.3),(3,-.3),(4,-.3)]

c_fe_mag_up = [(-7,0),(-6.5,.2),(-6,.3),(-5.75,.5),(-5.5,.8),(-5.25,.9),(-5,.8),(-4.5,.9),(-4.25,.7),(-4,.8),(-3.75,1.0),(-3.5,1.5),(-3.2,3.2),(-3,3.0),(-2.75,2.8),(-2.45,2.4),(-2.25,1.8),(-2,1.4),(-1.75,1.2),(-1.5,1.1),(-1.3,1.6),(-1,1.0),(-.75,.6),(-.5,.3),(-.25,.1),(0,0),(1,.2),(2,.3),(3,.3),(4,.4)]
c_fe_mag_dn = [(-7,0),(-6.5,-.1),(-6,-.3),(-5.5,-.6),(-5,-1.0),(-4.5,-1.0),(-4.25,-1.2),(-4,-.9),(-3.75,-1.5),(-3.5,-2.0),(-3.25,-2.6),(-3.07,-3.55),(-2.75,-2.9),(-2.5,-2.2),(-2.25,-1.6),(-2,-1.1),(-1.75,-.7),(-1.5,-.4),(-1,-.2),(0,-.1),(1,-.2),(2,-.2),(3,-.3),(4,-.3)]
c_fe_blue_up = [(-7,0),(-6,.1),(-5.5,.3),(-5,.3),(-4.5,.4),(-4,.5),(-3.5,1.0),(-3.25,2.3),(-3,2.2),(-2.75,1.8),(-2.5,1.5),(-2,1.0),(-1.5,.6),(-1,.3),(0,0),(.5,.3),(1,.7),(1.5,1.0),(2,1.3),(2.5,1.7),(3,2.1),(3.5,2.6),(4,4.1)]
c_fe_blue_dn = [(-7,0),(-6,-.1),(-5,-.2),(-4.5,-.4),(-4,-.6),(-3.5,-1.2),(-3.25,-2.4),(-3,-2.3),(-2.75,-1.9),(-2.5,-1.4),(-2,-.8),(-1.5,-.4),(-1,-.2),(0,0),(.5,-.2),(1,-.5),(1.5,-.9),(2,-1.2),(2.5,-1.6),(3,-2.0),(3.5,-2.5),(4,-3.9)]
c_fe_red_up = [(-7,0),(-6.75,.1),(-6.5,.3),(-6.3,.85),(-6,.9),(-5.9,1.0),(-5.75,1.2),(-5.56,2.55),(-5.35,.5),(-5.1,.85),(-4.9,.4),(-4.55,.8),(-4.3,.5),(-4,.3),(-3.75,.1),(-3.5,0),(-3.25,.3),(-3,.4),(-2.75,.5),(-2.5,.3),(-2,.1),(-1.5,.05),(0,0),(1,.05),(2,.05),(4,.05)]
c_fe_red_dn = [(-7,0),(-6,-.1),(-4,-.1),(-3,-.1),(-2,-.1),(-1,-.1),(-.5,-.2),(0,-.4),(.25,-.6),(.5,-.4),(.75,-.5),(1.05,-1.1),(1.25,-1.3),(1.4,-1.6),(1.6,-.6),(1.75,-.3),(2,-.1),(3,-.1),(4,-.1)]
c_fe_grn_up = [(-7,0),(-6.75,.1),(-6.5,.3),(-6.25,1.0),(-6.05,1.8),(-5.9,.9),(-5.75,.6),(-5.5,.4),(-5,.4),(-4.5,.3),(-4,.3),(-3.5,.2),(-3,.2),(-2,.2),(-1,.2),(0,.1),(1,.1),(2,.1),(4,.1)]
c_fe_grn_dn = [(-7,0),(-5.5,0),(-5,-.1),(-4,-.2),(-3.75,-.5),(-3.5,-.3),(-3,-.2),(-2,-.1),(0,-.1),(.5,-.2),(1,-.3),(1.5,-.6),(1.75,-.5),(2,-.3),(3,-.1),(4,-.1)]

c_co_mag_up = [(-7,.3),(-6.9,.5),(-6.75,.2),(-6.5,.1),(-6,.2),(-5.5,.4),(-5,.6),(-4.5,.7),(-4.25,.8),(-4,1.0),(-3.75,1.4),(-3.5,2.4),(-3.25,3.3),(-3.07,3.7),(-2.75,3.2),(-2.5,2.7),(-2.25,2.2),(-2,1.7),(-1.75,1.3),(-1.5,.8),(-1.27,1.7),(-1,.9),(-.75,.5),(-.5,.4),(-.25,.2),(0,.1),(1,.2),(2,.3),(3,.3),(4,.4)]
c_co_mag_dn = [(-7,0),(-6.5,-.1),(-6,-.4),(-5.5,-.6),(-5,-.9),(-4.5,-1.0),(-4.25,-1.2),(-4,-1.0),(-3.75,-1.5),(-3.5,-2.2),(-3.25,-3.2),(-3.1,-3.9),(-2.75,-2.9),(-2.5,-2.2),(-2.25,-1.6),(-2,-1.2),(-1.75,-.9),(-1.5,-.7),(-1.25,-.6),(-1,-.6),(-.75,-.7),(-.55,-1.1),(-.25,-.4),(0,-.2),(1,-.2),(2,-.2),(3,-.3),(4,-.3)]
c_co_blue_up = [(-7,0),(-6,.1),(-5,.3),(-4.5,.4),(-4,.6),(-3.5,1.0),(-3.25,1.8),(-3,2.9),(-2.75,2.6),(-2.5,2.0),(-2.25,1.5),(-2,1.0),(-1.5,.6),(-1,.4),(-.5,.2),(0,.05),(.5,.3),(1,.7),(1.5,1.0),(2,1.2),(2.5,1.6),(3,2.2),(3.5,3.0),(3.75,3.6),(4,4.5)]
c_co_blue_dn = [(-7,0),(-6,-.1),(-5,-.3),(-4.5,-.5),(-4,-.6),(-3.5,-1.0),(-3.25,-2.2),(-3,-2.9),(-2.75,-2.5),(-2.5,-1.9),(-2,-1.2),(-1.5,-.6),(-1,-.3),(0,0),(.5,-.3),(1,-.7),(1.5,-1.2),(2,-1.5),(2.5,-2.0),(3,-2.3),(3.5,-3.0),(4,-4.0)]
c_co_red_up = [(-7,0),(-6,.1),(-5.5,.2),(-5.35,.5),(-5.22,3.1),(-5.1,.9),(-4.95,.3),(-4.75,.3),(-4.5,1.0),(-4.3,1.8),(-4.1,1.2),(-3.85,1.7),(-3.65,.5),(-3.25,.5),(-3,.4),(-2.5,.3),(-2,.2),(-1.5,.2),(-1,.1),(0,0),(1,.05),(2,.05),(4,.05)]
c_co_red_dn = [(-7,0),(-6,-.1),(-5,-.1),(-4,-.2),(-3.5,-.4),(-3,-.5),(-2.75,-.6),(-2.4,-1.2),(-2.05,-.6),(-1.5,-.5),(-1,-.4),(-.75,-.6),(-.6,-.85),(-.4,-.5),(0,-.1),(.5,-.1),(1,-.2),(2,-.3),(3,-.4),(4,-.6)]
c_co_grn_up = [(-7,0),(-6,0),(-5.5,.2),(-5.35,.8),(-5.22,3.8),(-5.1,1.0),(-5,.8),(-4.75,.7),(-4.5,.6),(-4,.3),(-3.5,.3),(-3,.2),(-2,.2),(-1,.2),(0,.1),(1,.1),(2,.1),(4,.1)]
c_co_grn_dn = [(-7,0),(-5.5,0),(-5,-.1),(-4,-.2),(-3,-.2),(-2,-.2),(-1,-.2),(0,-.1),(1,-.1),(2,-.1),(3,-.1),(4,-.2)]

c_ni_mag_up = [(-7,0),(-6.5,.2),(-6,.4),(-5.5,.6),(-5,.7),(-4.75,.7),(-4.5,.8),(-4,1.1),(-3.75,1.25),(-3.5,1.3),(-3.25,1.5),(-3,3.3),(-2.7,3.7),(-2.5,3.0),(-2.2,1.6),(-2,1.5),(-1.65,.95),(-1.5,1.0),(-1.35,1.45),(-1.1,1.0),(-.85,1.2),(-.5,.4),(-.25,.2),(0,.1),(1,.2),(2,.3),(3,.3),(4,.4)]
c_ni_mag_dn = [(-7,0),(-6.5,-.1),(-6,-.3),(-5.5,-.5),(-5,-.7),(-4.5,-.8),(-4,-.9),(-3.75,-1.2),(-3.5,-1.4),(-3.25,-2.0),(-3,-3.0),(-2.75,-3.7),(-2.5,-3.2),(-2.25,-2.2),(-2,-1.5),(-1.75,-.9),(-1.5,-.6),(-1,-.4),(-.6,-.5),(-.4,-1.15),(-.25,-.5),(0,-.2),(1,-.2),(2,-.3),(3,-.3),(4,-.4)]
c_ni_blue_up = [(-7,0),(-6,.1),(-5,.2),(-4.5,.3),(-4,.5),(-3.5,.8),(-3.25,1.4),(-3,2.2),(-2.75,2.7),(-2.5,2.3),(-2.25,1.7),(-2,1.2),(-1.5,.7),(-1,.4),(-.5,.2),(0,.05),(.5,.3),(1,.7),(1.5,1.0),(2,1.2),(2.5,1.4),(3,1.9),(3.5,2.4),(4,3.6)]
c_ni_blue_dn = [(-7,0),(-6,-.1),(-5,-.2),(-4.5,-.3),(-4,-.5),(-3.5,-.8),(-3.25,-1.6),(-3,-2.5),(-2.75,-2.7),(-2.5,-2.3),(-2,-1.4),(-1.5,-.8),(-1,-.4),(0,-.1),(.5,-.3),(1,-.7),(1.5,-1.0),(2,-1.2),(2.5,-1.5),(3,-2.0),(3.5,-2.8),(4,-3.5)]
c_ni_red_up = [(-7,0),(-6.5,.2),(-6.3,.7),(-6.1,.4),(-5.7,1.2),(-5.45,1.4),(-5.3,3.3),(-5.15,1.7),(-4.95,2.6),(-4.8,.8),(-4.5,.65),(-4.25,.55),(-4,.4),(-3.75,.3),(-3.5,.15),(-3,.1),(-2,.1),(-1,.1),(0,.05),(1,.05),(2,.05),(4,.05)]
c_ni_red_dn = [(-7,0),(-6,-.1),(-5.5,-.2),(-5,-.4),(-4.75,-.6),(-4.45,-.9),(-4.25,-1.8),(-4.0,-1.8),(-3.9,-1.7),(-3.8,-2.2),(-3.65,-1.2),(-3.45,-.6),(-3.2,-.4),(-2.75,-.6),(-2.5,-.75),(-2.2,-.75),(-2,-.4),(-1.75,-.2),(-1.5,-.1),(-1,-.05),(0,-.1),(.5,-.1),(1,-.1),(2,-.1),(4,-.1)]
c_ni_grn_up = [(-7,0),(-6.5,.3),(-6.35,.5),(-6.24,4.5),(-6.12,.6),(-6,.5),(-5.75,.4),(-5.5,.3),(-5,.2),(-4,.2),(-3,.2),(-2,.2),(-1,.2),(0,.1),(1,.1),(2,.1),(4,.1)]
c_ni_grn_dn = [(-7,0),(-5.5,0),(-5,-.1),(-4,-.2),(-3.5,-.3),(-3,-.2),(-2,-.2),(-1,-.1),(0,-.1),(1,-.2),(2,-.2),(2.5,-.4),(2.75,-.6),(3,-.3),(3.5,-.1),(4,-.1)]

# ---------------- styles ----------------
styles = {
    'mag':  dict(color='#ff00ff', lw=1.0, ls=(0, (7, 2, 1.2, 2))),
    'blue': dict(color='#0000ff', lw=1.0, ls=(0, (1, 2.2))),
    'grn':  dict(color='#00c800', lw=1.0, ls=(0, (5, 2.5))),
    'red':  dict(color='#ff0000', lw=1.1, ls='-'),
}
curve_order = ['mag', 'blue', 'grn', 'red']

W, H = 830, 1090
fig = plt.figure(figsize=(W / 100, H / 100), dpi=100)

col_left = [61, 320, 580]
ax_w = 246
top = 33
row_h = 202.8

def series(pts):
    e = [p[0] for p in pts]
    v = [p[1] for p in pts]
    return e, v

for ci, col in enumerate(['a', 'b', 'c']):
    for ri, el in enumerate(elements):
        y0 = top + (ri + 1) * row_h
        ax = fig.add_axes([col_left[ci] / W, 1 - y0 / H, ax_w / W, row_h / H])
        key = el.lower()
        for cname in curve_order:
            for spin in ('up', 'dn'):
                e, v = series(globals()[f"{col}_{key}_{cname}_{spin}"])
                ax.plot(e, v, **styles[cname])
            if cname == 'blue':
                e, v = series(black_dos)
                ax.plot(e, v, color='black', lw=0.9, ls=(0, (1, 2)))
        ax.axvline(0, color='black', lw=1.0, ls=(0, (5, 4)))
        ax.set_xlim(-7, 4)
        ax.set_ylim(-7.9, 7.9)
        ax.set_xticks(x_ticks)
        ax.set_yticks(y_ticks)
        ax.tick_params(direction='in', length=7, width=1.0, labelsize=12,
                       top=False, right=False)
        for s in ax.spines.values():
            s.set_linewidth(1.2)
        if ci != 0:
            ax.set_yticklabels([])
        if ri != len(elements) - 1:
            ax.set_xticklabels([])
        else:
            ax.set_xlabel(r"E - E$_{\rm F}$ (eV)", fontsize=12, labelpad=0)
        ax.text(0.07, 0.89, f"T = {el}", transform=ax.transAxes,
                fontsize=13, ha='left', va='center')
    fig.text((col_left[ci] + ax_w / 2) / W, 1 - 16 / H, col_titles[ci],
             fontsize=12.5, ha='center', va='center')

fig.text(12 / W, 540 / H, "DOS (1/eV)", rotation=90, fontsize=12,
         ha='center', va='center')

fig.savefig("out.png", dpi=100)
